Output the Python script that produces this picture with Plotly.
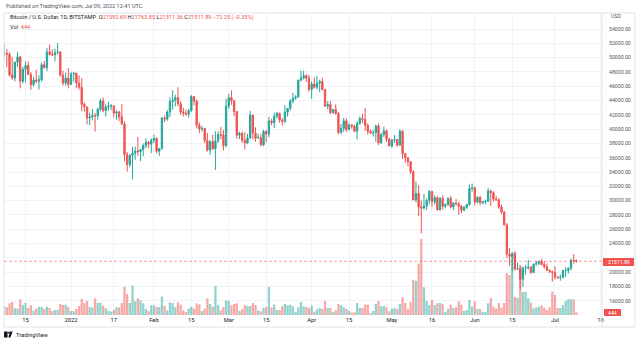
import plotly.graph_objects as go
import pandas as pd

# ---------------- data (BTC/USD daily, Bitstamp) ----------------
dates = pd.date_range("2021-12-07", "2022-07-09", freq="D")

open_dec = [50500, 50600, 50450, 47550, 47150, 49350, 50100, 46700, 48350, 48900, 47650, 46200, 46850, 46700, 46900, 49000, 48600, 50800, 50450, 50400, 50700, 50750, 47550, 46450, 47150]
high_dec = [51950, 51200, 50800, 50100, 49450, 50800, 50200, 48700, 49500, 49450, 47950, 47300, 48300, 47500, 49300, 49550, 51350, 51850, 51150, 51250, 52050, 50950, 48150, 47900, 48550]
low_dec = [50100, 48650, 47350, 46900, 46650, 48700, 45700, 46400, 46550, 47550, 45500, 45950, 46400, 45550, 46650, 48450, 48100, 50300, 50200, 49450, 50450, 47350, 46100, 46050, 45700]
close_dec = [50600, 50450, 47550, 47150, 49350, 50100, 46700, 48350, 48900, 47650, 46200, 46850, 46700, 46900, 49000, 48600, 50800, 50450, 50400, 50700, 50750, 47550, 46450, 47150, 46250]

open_jan = [46250, 47750, 47800, 46450, 45850, 43450, 43100, 41550, 41700, 41900, 41850, 42750, 43950, 42600, 43100, 43200, 43250, 42250, 42400, 41700, 40700, 36450, 35050, 36300, 36650, 36950, 36850, 37150, 37700, 38150, 37900]
high_jan = [47950, 47990, 47900, 47500, 47100, 43750, 43150, 42300, 42800, 42250, 43000, 44300, 44450, 43450, 43800, 43500, 43250, 42650, 42550, 43500, 41100, 36800, 36550, 37500, 37550, 38900, 37250, 38000, 38700, 38350, 38700]
low_jan = [46250, 46650, 45700, 45500, 42500, 42450, 40650, 40550, 41250, 39650, 41300, 42500, 42350, 41750, 42600, 42650, 41600, 41300, 41150, 40600, 35500, 34050, 34650, 32950, 35700, 36250, 35500, 36200, 37350, 37350, 36650]
close_jan = [47750, 47800, 46450, 45850, 43450, 43100, 41550, 41700, 41900, 41850, 42750, 43950, 42600, 43100, 43200, 43250, 42250, 42400, 41700, 40700, 36450, 35050, 36300, 36650, 36950, 36850, 37150, 37700, 38150, 37900, 38450]

open_feb = [38450, 38700, 36900, 37300, 41550, 41400, 42400, 43850, 44050, 44400, 43550, 42400, 42200, 42100, 42550, 44550, 43900, 40550, 40000, 40100, 38400, 37050, 38250, 37250, 38350, 39250, 39150, 37700]
high_feb = [39250, 38850, 37350, 41700, 41900, 42650, 44450, 45450, 44800, 45850, 43900, 43000, 42750, 42850, 44750, 44600, 44150, 40950, 40450, 40150, 39450, 38450, 39200, 39700, 39700, 40300, 39850, 44250]
low_feb = [38050, 36600, 36250, 37100, 40950, 41150, 41700, 42700, 43150, 43200, 42000, 41750, 41900, 41600, 42450, 43350, 40100, 39450, 39650, 38050, 36850, 36400, 37100, 34300, 38050, 38600, 37000, 37450]
close_feb = [38700, 36900, 37300, 41550, 41400, 42400, 43850, 44050, 44400, 43550, 42400, 42200, 42100, 42550, 44550, 43900, 40550, 40000, 40100, 38400, 37050, 38250, 37250, 38350, 39250, 39150, 37700, 43200]

open_mar = [43200, 44400, 43950, 42450, 39150, 39400, 38400, 38050, 38750, 41950, 39450, 38750, 38800, 37800, 39650, 39300, 41150, 40900, 41800, 42200, 41250, 41050, 42350, 42900, 43950, 44350, 44500, 46850, 47150, 47450, 47100]
high_mar = [44950, 45400, 44100, 42550, 39650, 39650, 39550, 39350, 42550, 42000, 40250, 39350, 39300, 39900, 39850, 41700, 41450, 42300, 42400, 42300, 41550, 43350, 42950, 44200, 45050, 44750, 46900, 48200, 48150, 47700, 47600]
low_mar = [42850, 43400, 41850, 38650, 38600, 38100, 37150, 37900, 38650, 38550, 38250, 38650, 37600, 37600, 38150, 38850, 40550, 40150, 41500, 40900, 40500, 40900, 41750, 42600, 43600, 44100, 44400, 46650, 46950, 46600, 45250]
close_mar = [44400, 43950, 42450, 39150, 39400, 38400, 38050, 38750, 41950, 39450, 38750, 38800, 37800, 39650, 39300, 41150, 40900, 41800, 42200, 41250, 41050, 42350, 42900, 43950, 44350, 44500, 46850, 47150, 47450, 47100, 45550]

open_apr = [45550, 46300, 45850, 46450, 46650, 45550, 43200, 43450, 42300, 42750, 42200, 39550, 40100, 41150, 39950, 40550, 40400, 39700, 40800, 41500, 41350, 40500, 39700, 39450, 39500, 40450, 38100, 39250, 39750, 38600]
high_apr = [46700, 47200, 47450, 46900, 47200, 45550, 43900, 43950, 42800, 43450, 42400, 40700, 41550, 41500, 40850, 40700, 40600, 41100, 41750, 42150, 42950, 40800, 39950, 39900, 40600, 40800, 39450, 40350, 39950, 38800]
low_apr = [44250, 45650, 45550, 45150, 45400, 43100, 42750, 42100, 42150, 42000, 39250, 39300, 39600, 39600, 39800, 40050, 39550, 38550, 40600, 40850, 39750, 39200, 39300, 38950, 38200, 37750, 37900, 38900, 38200, 37600]
close_apr = [46300, 45850, 46450, 46650, 45550, 43200, 43450, 42300, 42750, 42200, 39550, 40100, 41150, 39950, 40550, 40400, 39700, 40800, 41500, 41350, 40500, 39700, 39450, 39500, 40450, 38100, 39250, 39750, 38600, 37650]

open_may = [37650, 38450, 38550, 37750, 39700, 36550, 36000, 35450, 34050, 30100, 31000, 29100, 28950, 29250, 30050, 31300, 29850, 30400, 28700, 30300, 29200, 29450, 30300, 29100, 29650, 29550, 29200, 28650, 29050, 29450, 31700]
high_may = [38650, 39150, 38650, 40000, 39850, 36650, 36100, 35500, 34250, 32650, 32150, 30050, 30950, 30300, 31450, 31300, 30750, 30650, 30500, 30750, 29600, 30450, 30650, 29800, 30200, 29850, 29400, 29250, 29550, 32200, 32400]
low_may = [37400, 38050, 37550, 37700, 35800, 35300, 34800, 33700, 30050, 29750, 27800, 25400, 28750, 28650, 29500, 29100, 29450, 28650, 28650, 28750, 28950, 29250, 28900, 28650, 29300, 28050, 28250, 28550, 28850, 29300, 31250]
close_may = [38450, 38550, 37750, 39700, 36550, 36000, 35450, 34050, 30100, 31000, 29100, 28950, 29250, 30050, 31300, 29850, 30400, 28700, 30300, 29200, 29450, 30300, 29100, 29650, 29550, 29200, 28650, 29050, 29450, 31700, 31800]

open_jun = [31800, 29800, 30450, 29700, 29850, 29900, 31350, 31100, 30200, 30100, 29100, 28400, 26600, 22500, 22200, 22600, 20400, 20450, 19000, 20550, 20600, 20700, 19950, 21100, 21250, 21500, 21050, 20750, 20250, 20100]
high_jun = [31950, 30650, 30650, 29950, 30150, 31750, 31550, 31300, 30650, 30350, 29450, 28550, 26850, 23350, 22800, 22950, 21350, 20800, 20800, 21000, 21700, 20850, 21200, 21550, 21600, 21850, 21500, 21200, 20400, 20150]
low_jun = [29300, 29600, 29350, 29500, 29500, 29850, 29250, 29850, 29950, 28850, 28100, 26550, 21950, 20850, 20100, 20250, 20300, 17600, 17950, 19650, 20350, 19750, 19900, 20900, 20950, 20950, 20500, 20200, 19850, 18650]
close_jun = [29800, 30450, 29700, 29850, 29900, 31350, 31100, 30200, 30100, 29100, 28400, 26600, 22500, 22200, 22600, 20400, 20450, 19000, 20550, 20600, 20700, 19950, 21100, 21250, 21500, 21050, 20750, 20250, 20100, 19950]

open_jul = [19950, 19300, 19250, 19300, 20200, 20220, 20550, 21650, 21592.69]
high_jul = [20850, 19400, 19650, 20350, 20700, 20650, 21850, 22500, 21763.85]
low_jul = [18950, 19050, 18800, 19050, 19300, 19800, 20250, 21200, 21311.36]
close_jul = [19300, 19250, 19300, 20200, 20220, 20550, 21650, 21592.69, 21511.89]

vol_dec = [1440, 1230, 1870, 2080, 1070, 1010, 2510, 1600, 1920, 1120, 1550, 690, 1010, 1330, 1280, 1010, 1330, 1120, 640, 800, 850, 1760, 1600, 1650, 1280]
vol_jan = [640, 590, 960, 1440, 2560, 1920, 2240, 1280, 1230, 2670, 1920, 1970, 1490, 1070, 640, 530, 800, 1230, 1230, 1920, 4530, 3360, 1920, 4690, 2190, 2670, 2350, 1870, 960, 640, 1550]
vol_feb = [1550, 1280, 1280, 2930, 1440, 750, 2030, 1920, 1230, 2030, 1650, 750, 480, 1010, 1330, 1010, 1870, 1710, 640, 1010, 2670, 1760, 1330, 4640, 1600, 750, 1280, 2350]
vol_mar = [2240, 1550, 1760, 1870, 640, 960, 1550, 1440, 1440, 1920, 1600, 750, 590, 1120, 1280, 4480, 1230, 1650, 800, 800, 1390, 1760, 1550, 1650, 1390, 480, 1230, 2080, 1390, 1280, 1120]
vol_apr = [1490, 530, 910, 1120, 960, 2290, 1120, 1120, 480, 750, 1760, 1600, 1230, 960, 640, 370, 430, 1920, 1120, 1120, 1650, 1650, 320, 640, 1760, 2240, 1390, 1440, 1230, 590]
vol_may = [1010, 1120, 960, 1760, 2830, 1920, 960, 2080, 5650, 5490, 8210, 12160, 4430, 2240, 1600, 2400, 1600, 1870, 1920, 1760, 480, 1010, 1650, 1120, 1230, 2190, 1650, 640, 800, 2400, 1330]
vol_jun = [2190, 960, 960, 480, 480, 1870, 2720, 1330, 1010, 1920, 1170, 1920, 6720, 6400, 9920, 2880, 2720, 8000, 3680, 3680, 2670, 1970, 1070, 1230, 1330, 1550, 1170, 800, 1230, 3730]
vol_jul = [3200, 1120, 1120, 1600, 2240, 2510, 2510, 2510, 444]

opens = open_dec + open_jan + open_feb + open_mar + open_apr + open_may + open_jun + open_jul
highs = high_dec + high_jan + high_feb + high_mar + high_apr + high_may + high_jun + high_jul
lows = low_dec + low_jan + low_feb + low_mar + low_apr + low_may + low_jun + low_jul
closes = close_dec + close_jan + close_feb + close_mar + close_apr + close_may + close_jun + close_jul
volumes = vol_dec + vol_jan + vol_feb + vol_mar + vol_apr + vol_may + vol_jun + vol_jul

tick_dates = ["2021-12-15", "2022-01-01", "2022-01-17", "2022-02-01", "2022-02-15", "2022-03-01",
              "2022-03-15", "2022-04-01", "2022-04-15", "2022-05-01", "2022-05-16", "2022-06-01",
              "2022-06-15", "2022-07-01", "2022-07-18"]
tick_text = ["15", "2022", "17", "Feb", "15", "Mar", "15", "Apr", "15", "May", "16", "Jun", "15", "Jul", "18"]
price_ticks = list(range(16000, 54001, 2000))

last_price = 21511.89
last_volume = 444
# the 22000 label sits under the last-price tag, so it is left blank
price_text = ["" if v == 22000 else f"{v}.00" for v in price_ticks]

# ---------------- styling ----------------
UP = "#26a69a"
DN = "#ef5350"
UP_V = "rgba(38,166,154,0.5)"
DN_V = "rgba(239,83,80,0.5)"
GRID = "#f0f3fa"
FONT = "Roboto"

# pixel frame of the pane
L, R, T, B = 4, 602, 13, 315
W, H = 640, 343


def px(x):
    return (x - L) / (R - L)


def py(y):
    return (B - y) / (B - T)


vol_colors = [UP_V if c >= o else DN_V for o, c in zip(opens, closes)]

fig = go.Figure()
fig.add_trace(go.Bar(x=dates, y=volumes, marker=dict(color=vol_colors, line=dict(width=0)),
                     yaxis="y", hoverinfo="skip", showlegend=False))
fig.add_trace(go.Candlestick(
    x=dates, open=opens, high=highs, low=lows, close=closes, yaxis="y2",
    increasing=dict(line=dict(color=UP, width=1), fillcolor=UP),
    decreasing=dict(line=dict(color=DN, width=1), fillcolor=DN),
    whiskerwidth=0, showlegend=False))

shapes = [
    # outer frame
    dict(type="rect", xref="paper", yref="paper", x0=px(4), x1=px(635), y0=py(327), y1=py(13),
         line=dict(color="#e0e3eb", width=1), fillcolor="rgba(0,0,0,0)", layer="above"),
    # price axis separator
    dict(type="line", xref="paper", yref="paper", x0=1, x1=1, y0=py(327), y1=py(13),
         line=dict(color="#e0e3eb", width=1), layer="above"),
    # last price dashed line
    dict(type="line", xref="paper", yref="y2", x0=0, x1=1, y0=last_price, y1=last_price,
         line=dict(color="rgba(239,83,80,0.55)", width=1, dash="3px,2px"), layer="above"),
    # last price tag
    dict(type="rect", xref="paper", yref="paper", x0=px(603), x1=px(634), y0=py(266), y1=py(258),
         line=dict(width=0), fillcolor="#ef5350", layer="above"),
    # volume tag
    dict(type="rect", xref="paper", yref="paper", x0=px(604), x1=px(621), y0=py(316), y1=py(309),
         line=dict(width=0), fillcolor="#ef5350", layer="above"),
    # TradingView logo pieces
    dict(type="rect", xref="paper", yref="paper", x0=px(4), x1=px(7.6), y0=py(337.5), y1=py(331.5),
         line=dict(width=0), fillcolor="#131722"),
    dict(type="circle", xref="paper", yref="paper", x0=px(7.8), x1=px(9.6), y0=py(333.6), y1=py(331.8),
         line=dict(width=0), fillcolor="#131722"),
    dict(type="path", xref="paper", yref="paper",
         path=f"M {px(9.8)},{py(331.5)} L {px(12.6)},{py(331.5)} L {px(10.4)},{py(337.5)} L {px(8.4)},{py(337.5)} Z",
         line=dict(width=0), fillcolor="#131722"),
]

hdr = ("Bitcoin / U.S. Dollar, 1D, BITSTAMP  "
       "O<span style='color:#ef5350'>21592.69</span> "
       "H<span style='color:#ef5350'>21763.85</span> "
       "L<span style='color:#ef5350'>21311.36</span> "
       "C<span style='color:#ef5350'>21511.89</span> "
       "<span style='color:#ef5350'>\u221272.25 (\u22120.33%)</span>")

annotations = [
    dict(text="Published on TradingView.com, Jul 09, 2022 12:41 UTC", x=px(4), y=py(6.5),
         xanchor="left", yanchor="middle", font=dict(size=5.6, color="#50535e", family=FONT)),
    dict(text=hdr, x=px(8), y=py(18), xanchor="left", yanchor="middle",
         font=dict(size=5.6, color="#131722", family=FONT)),
    dict(text=f"Vol  <span style='color:#ef5350'>{last_volume}</span>", x=px(8), y=py(27),
         xanchor="left", yanchor="middle", font=dict(size=5.6, color="#131722", family=FONT)),
    dict(text="USD", x=px(609), y=py(16), xanchor="left", yanchor="middle",
         font=dict(size=5.2, color="#50535e", family=FONT)),
    dict(text=f"{last_price:.2f}", x=px(618.5), y=py(262), xanchor="center", yanchor="middle",
         font=dict(size=5.2, color="white", family=FONT)),
    dict(text=str(last_volume), x=px(612.5), y=py(312.5), xanchor="center", yanchor="middle",
         font=dict(size=5.2, color="white", family=FONT)),
    dict(text="TradingView", x=px(13.5), y=py(334.5), xanchor="left", yanchor="middle",
         font=dict(size=5.8, color="#131722", family=FONT)),
]
for a in annotations:
    a.update(xref="paper", yref="paper", showarrow=False)

fig.update_layout(
    width=W, height=H,
    margin=dict(l=L, r=W - R, t=T, b=H - B),
    paper_bgcolor="white", plot_bgcolor="white",
    bargap=0.15,
    font=dict(family=FONT, size=6, color="#131722"),
    xaxis=dict(type="date", range=["2021-12-06 22:30", "2022-07-18 14:00"],
               tickvals=tick_dates, ticktext=tick_text, showgrid=True, gridcolor=GRID, gridwidth=1,
               ticks="", showline=False, zeroline=False, rangeslider=dict(visible=False),
               tickfont=dict(size=5.8, color="#131722", family=FONT), fixedrange=True),
    yaxis=dict(range=[0, 48320], visible=False, showgrid=False, fixedrange=True),
    yaxis2=dict(overlaying="y", side="right", range=[14000, 56238],
                tickvals=price_ticks, ticktext=price_text, showgrid=True, gridcolor=GRID,
                ticks="", showline=False, zeroline=False, ticklabelstandoff=6,
                tickfont=dict(size=5.2, color="#50535e", family=FONT), fixedrange=True),
    shapes=shapes, annotations=annotations, showlegend=False,
)

fig.write_html("out.html", config={"displayModeBar": False})
